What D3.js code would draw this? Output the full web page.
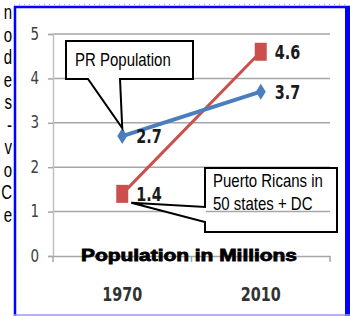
<!DOCTYPE html>
<html>
<head>
<meta charset="utf-8">
<script src="https://cdn.jsdelivr.net/npm/d3@7"></script>
<style>
  body { margin: 0; background: #fff; }
  svg { display: block; }
</style>
</head>
<body>
<div id="chart"></div>
<script>
// values (millions)
var years = ["1970", "2010"];
var prIsland = [2.7, 3.7];
var prStates = [1.4, 4.6];
var yTicks = [0, 1, 2, 3, 4, 5];
var chartTitle = "Population in Millions";
var calloutIsland = ["PR Population"];
var calloutStates = ["Puerto Ricans in", "50 states + DC"];
// tail ends of the justified paragraph cut off on the left
var sideLetters = ["n", "o", "d", "e", "s", "-", "v", "o", "C", "e"];

var W = 350, H = 316;
var narrow = "'Liberation Sans Narrow', 'DejaVu Sans Condensed', sans-serif";
var arial = "'Liberation Sans', Arial, sans-serif";

var svg = d3.select("#chart").append("svg")
    .attr("width", W)
    .attr("height", H);

// paragraph fragments
svg.selectAll("text.side")
    .data(sideLetters)
    .enter().append("text")
    .attr("class", "side")
    .attr("text-anchor", "end")
    .attr("transform", function(d, i) { return "translate(12," + (19 + i * 22.5) + ") scale(1,1.35)"; })
    .attr("font-family", arial)
    .attr("font-size", 15)
    .attr("fill", "#000")
    .text(function(d) { return d; });

// frame
svg.append("line")
    .attr("x1", 14).attr("x2", 346)
    .attr("y1", 4.5).attr("y2", 4.5)
    .attr("stroke", "#b0b0c8")
    .attr("stroke-dasharray", "1,4");
svg.append("rect")
    .attr("x", 15).attr("y", 7)
    .attr("width", 332).attr("height", 308)
    .attr("fill", "#fff")
    .attr("stroke", "none");
svg.append("line").attr("x1", 15).attr("x2", 15).attr("y1", 6).attr("y2", 316)
    .attr("stroke", "#0000ff").attr("stroke-width", 2.5);
svg.append("line").attr("x1", 14).attr("x2", 350).attr("y1", 7).attr("y2", 7)
    .attr("stroke", "#0000ff").attr("stroke-width", 2.5);
svg.append("line").attr("x1", 347.5).attr("x2", 347.5).attr("y1", 6).attr("y2", 316)
    .attr("stroke", "#0000ff").attr("stroke-width", 5);
svg.append("line").attr("x1", 14).attr("x2", 350).attr("y1", 315).attr("y2", 315)
    .attr("stroke", "#9a9af0").attr("stroke-width", 1.5);

// scales
var x = d3.scaleBand().domain(years).range([53, 330]);
var y = d3.scaleLinear().domain([0, 5]).range([256, 34]);
var cx = function(d) { return x(d) + x.bandwidth() / 2; };

var g = svg.append("g");

// gridlines
g.selectAll("line.grid")
    .data(yTicks.slice(1))
    .enter().append("line")
    .attr("class", "grid")
    .attr("x1", 53).attr("x2", 330)
    .attr("y1", function(d) { return y(d); })
    .attr("y2", function(d) { return y(d); })
    .attr("stroke", "#a6a6a6")
    .attr("stroke-width", 1.5);

// y axis
var yAxis = g.append("g")
    .attr("transform", "translate(53,0)")
    .call(d3.axisLeft(y).tickValues(yTicks).tickFormat(d3.format("d")).tickSize(5).tickPadding(9));
yAxis.select(".domain").attr("stroke", "#c0c0c0").attr("stroke-width", 1.5);
yAxis.selectAll(".tick line").attr("stroke", "#a6a6a6").attr("stroke-width", 1.5);
yAxis.selectAll(".tick text")
    .attr("font-family", narrow)
    .attr("font-size", 15)
    .attr("fill", "#404040")
    .attr("dy", null)
    .attr("transform", "translate(0,5) scale(1,1.2)")
    .attr("y", 0);

// x axis
var xAxis = g.append("g")
    .attr("transform", "translate(0,256)")
    .call(d3.axisBottom(x).tickSize(0).tickPadding(0));
xAxis.select(".domain").attr("stroke", "#a6a6a6").attr("stroke-width", 1.5);
xAxis.selectAll(".tick text")
    .attr("font-family", narrow)
    .attr("font-size", 16)
    .attr("font-weight", "bold")
    .attr("fill", "#333")
    .attr("dy", null)
    .attr("y", 0)
    .attr("transform", "translate(0,45) scale(1,1.2)");
// band edge ticks
g.selectAll("line.xtick")
    .data([53, 53 + x.bandwidth(), 330])
    .enter().append("line")
    .attr("class", "xtick")
    .attr("x1", function(d) { return d; }).attr("x2", function(d) { return d; })
    .attr("y1", 256).attr("y2", 262)
    .attr("stroke", "#a6a6a6")
    .attr("stroke-width", 1.5);

// lines
var line = d3.line()
    .x(function(d, i) { return cx(years[i]); })
    .y(function(d) { return y(d); });

g.append("path")
    .datum(prStates)
    .attr("d", line)
    .attr("fill", "none")
    .attr("stroke", "#c9504d")
    .attr("stroke-width", 3);
g.append("path")
    .datum(prIsland)
    .attr("d", line)
    .attr("fill", "none")
    .attr("stroke", "#4a7ebf")
    .attr("stroke-width", 4);

// markers
g.selectAll("rect.sq")
    .data(prStates)
    .enter().append("rect")
    .attr("class", "sq")
    .attr("x", function(d, i) { return cx(years[i]) - 6; })
    .attr("y", function(d) { return y(d) - 9; })
    .attr("width", 12)
    .attr("height", 18)
    .attr("fill", "#c9504d");
g.selectAll("path.dia")
    .data(prIsland)
    .enter().append("path")
    .attr("class", "dia")
    .attr("d", "M0,-8L5,0L0,8L-5,0Z")
    .attr("transform", function(d, i) { return "translate(" + cx(years[i]) + "," + y(d) + ")"; })
    .attr("fill", "#4a7ebf");

// value labels
function valueLabels(vals, cls) {
    g.selectAll("text." + cls)
        .data(vals)
        .enter().append("text")
        .attr("class", cls)
        .attr("transform", function(d, i) {
            return "translate(" + (cx(years[i]) + 14) + "," + (y(d) + 7) + ") scale(1,1.2)";
        })
        .attr("font-family", narrow)
        .attr("font-size", 16)
        .attr("font-weight", "bold")
        .attr("fill", "#1a1a1a")
        .text(function(d) { return d.toFixed(1); });
}
valueLabels(prIsland, "vi");
valueLabels(prStates, "vs");

// title sitting on the axis
g.append("text")
    .attr("x", 189)
    .attr("y", 261)
    .attr("text-anchor", "middle")
    .attr("font-family", arial)
    .attr("font-size", 16)
    .attr("font-weight", "bold")
    .attr("stroke", "#000")
    .attr("stroke-width", 0.8)
    .attr("textLength", 216)
    .attr("lengthAdjust", "spacingAndGlyphs")
    .text(chartTitle);

// callouts
var tipA = [cx(years[0]), y(prIsland[0]) - 8];
var boxA = {x0: 66, y0: 41, x1: 193, y1: 79};
g.append("path")
    .attr("d", "M" + boxA.x0 + "," + boxA.y0 + "H" + boxA.x1 + "V" + boxA.y1 +
         "H120L" + tipA[0] + "," + tipA[1] + "L88," + boxA.y1 + "H" + boxA.x0 + "Z")
    .attr("fill", "#fff")
    .attr("stroke", "#000")
    .attr("stroke-width", 2)
    .attr("stroke-linejoin", "miter");
g.selectAll("text.ca")
    .data(calloutIsland)
    .enter().append("text")
    .attr("class", "ca")
    .attr("transform", "translate(75,66) scale(1,1.2)")
    .attr("font-family", arial)
    .attr("font-size", 15)
    .attr("fill", "#000")
    .text(function(d) { return d; });

var tipB = [cx(years[0]) + 9, y(prStates[0]) + 9];
var boxB = {x0: 205, y0: 168, x1: 337, y1: 232};
g.append("path")
    .attr("d", "M" + boxB.x0 + "," + boxB.y0 + "H" + boxB.x1 + "V" + boxB.y1 +
         "H" + boxB.x0 + "V222L" + tipB[0] + "," + tipB[1] + "L" + boxB.x0 + ",207Z")
    .attr("fill", "#fff")
    .attr("stroke", "#000")
    .attr("stroke-width", 2);
// the 1 gridline shows through the lower box
g.append("line")
    .attr("x1", boxB.x0 + 1).attr("x2", 330)
    .attr("y1", y(1)).attr("y2", y(1))
    .attr("stroke", "#a6a6a6").attr("stroke-width", 1.5);
g.selectAll("text.cb")
    .data(calloutStates)
    .enter().append("text")
    .attr("class", "cb")
    .attr("transform", function(d, i) { return "translate(213," + (187 + i * 23) + ") scale(1,1.2)"; })
    .attr("font-family", arial)
    .attr("font-size", 15)
    .attr("fill", "#000")
    .text(function(d) { return d; });
</script>
</body>
</html>
